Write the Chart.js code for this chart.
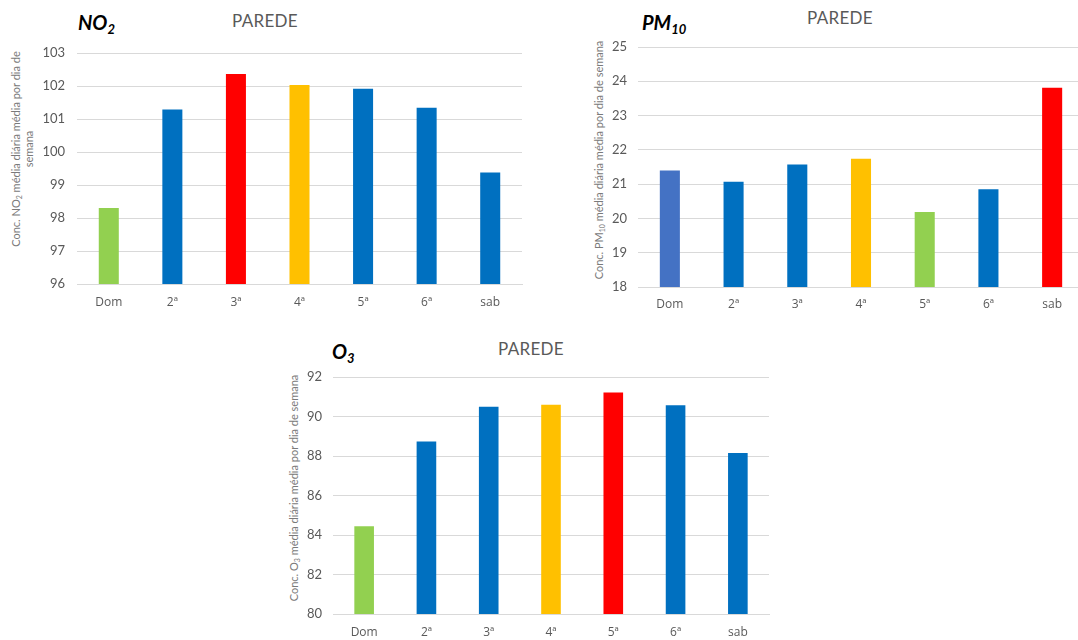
<!DOCTYPE html>
<html>
<head>
<meta charset="utf-8">
<script src="https://cdn.jsdelivr.net/npm/chart.js@4.4.1/dist/chart.umd.min.js"></script>
<style>
  html, body { margin: 0; padding: 0; background: #ffffff; overflow: hidden; }
  body { width: 1078px; height: 640px; position: relative; font-family: Lato, "Noto Sans", sans-serif; }
  .box { position: absolute; }
  .pollutant { position: absolute; font-weight: bold; font-style: italic; font-size: 20px; color: #000; line-height: 1; white-space: nowrap; }
  .pollutant sub { font-size: 13px; vertical-align: -4px; line-height: 0; }
  .place { position: absolute; font-size: 17px; color: #595959; line-height: 1; white-space: nowrap; letter-spacing: 0.3px; }
  .ytitle { position: absolute; font-size: 11px; color: #7a7a7a; line-height: 13px; white-space: nowrap; text-align: center;
            transform: translate(-50%, -50%) rotate(-90deg); }
  .ytitle sub { font-size: 7px; vertical-align: -2px; line-height: 0; }
</style>
</head>
<body>
<div class="pollutant" style="left:78px; top:12px;">NO<sub>2</sub></div>
<div class="place" style="left:232px; top:12px;">PAREDE</div>
<div class="ytitle" style="left:22px; top:149px;">Conc. NO<sub>2</sub> média diária média por dia de<br>semana</div>
<div class="box" style="left:0px; top:0px; width:530px; height:320px;"><canvas id="cNO2"></canvas></div>

<div class="pollutant" style="left:642px; top:12px;">PM<sub>10</sub></div>
<div class="place" style="left:807px; top:9px;">PAREDE</div>
<div class="ytitle" style="left:598px; top:160px;">Conc. PM<sub>10</sub> média diária média por dia de semana</div>
<div class="box" style="left:560px; top:0px; width:526px; height:320px;"><canvas id="cPM10"></canvas></div>

<div class="pollutant" style="left:332px; top:341px;">O<sub>3</sub></div>
<div class="place" style="left:498px; top:340px;">PAREDE</div>
<div class="ytitle" style="left:293px; top:488px;">Conc. O<sub>3</sub> média diária média por dia de semana</div>
<div class="box" style="left:270px; top:330px; width:510px; height:320px;"><canvas id="cO3"></canvas></div>

<script>
// Days of the week
const days = ['Dom', '2ª', '3ª', '4ª', '5ª', '6ª', 'sab'];

// Mean daily concentration by weekday
const no2Values = [98.30, 101.29, 102.36, 102.03, 101.92, 101.34, 99.38];
const pm10Values = [21.40, 21.07, 21.57, 21.74, 20.19, 20.85, 23.81];
const o3Values = [84.44, 88.74, 90.50, 90.60, 91.21, 90.57, 88.15];

// Y-axis tick values
const no2Ticks = [96, 97, 98, 99, 100, 101, 102, 103];
const pm10Ticks = [18, 19, 20, 21, 22, 23, 24, 25];
const o3Ticks = [80, 82, 84, 86, 88, 90, 92];

// Bar colours per weekday
const BLUE = '#0070C0', GREEN = '#92D050', RED = '#FF0000', YELLOW = '#FFC000', SOFTBLUE = '#4472C4';
const no2Colors = [GREEN, BLUE, RED, YELLOW, BLUE, BLUE, BLUE];
const pm10Colors = [SOFTBLUE, BLUE, BLUE, YELLOW, GREEN, BLUE, RED];
const o3Colors = [GREEN, BLUE, BLUE, YELLOW, RED, BLUE, BLUE];

const GRID = '#D9D9D9';
const TEXT = '#595959';
const FONT = 'Lato, "Noto Sans", sans-serif';
const XFONT = '"Open Sans", "Noto Sans", sans-serif';

function makeChart(id, values, colors, ticks, geom) {
  const min = ticks[0], max = ticks[ticks.length - 1];
  const step = ticks[1] - ticks[0];
  return new Chart(document.getElementById(id), {
    type: 'bar',
    data: {
      labels: days,
      datasets: [{
        data: values,
        backgroundColor: colors,
        borderWidth: 0,
        categoryPercentage: 1,
        barPercentage: 0.315
      }]
    },
    options: {
      responsive: true,
      maintainAspectRatio: false,
      animation: false,
      devicePixelRatio: 1,
      layout: { padding: { left: 0, top: geom.top, right: geom.right, bottom: geom.bottom } },
      plugins: { legend: { display: false }, tooltip: { enabled: false }, title: { display: false } },
      scales: {
        x: {
          grid: { display: false, drawTicks: false },
          border: { display: true, color: GRID, width: 1 },
          ticks: { color: TEXT, font: { family: XFONT, size: 12 }, padding: geom.xPad, maxRotation: 0 },
          afterFit: (s) => { s.height = 30; }
        },
        y: {
          min: min, max: max,
          grid: { color: GRID, lineWidth: 1, drawTicks: false },
          border: { display: false },
          ticks: { stepSize: step, color: TEXT, font: { family: FONT, size: 13 }, padding: geom.yPad },
          afterFit: (s) => { s.width = geom.yWidth; }
        }
      }
    }
  });
}

makeChart('cNO2', no2Values, no2Colors, no2Ticks,
  { top: 53, right: 8, bottom: 6, yWidth: 77, yPad: 12, xPad: 11 });
makeChart('cPM10', pm10Values, pm10Colors, pm10Ticks,
  { top: 47, right: 2, bottom: 3, yWidth: 78, yPad: 11, xPad: 10 });
makeChart('cO3', o3Values, o3Colors, o3Ticks,
  { top: 47, right: 11, bottom: 6, yWidth: 63, yPad: 11, xPad: 11 });
</script>
</body>
</html>
